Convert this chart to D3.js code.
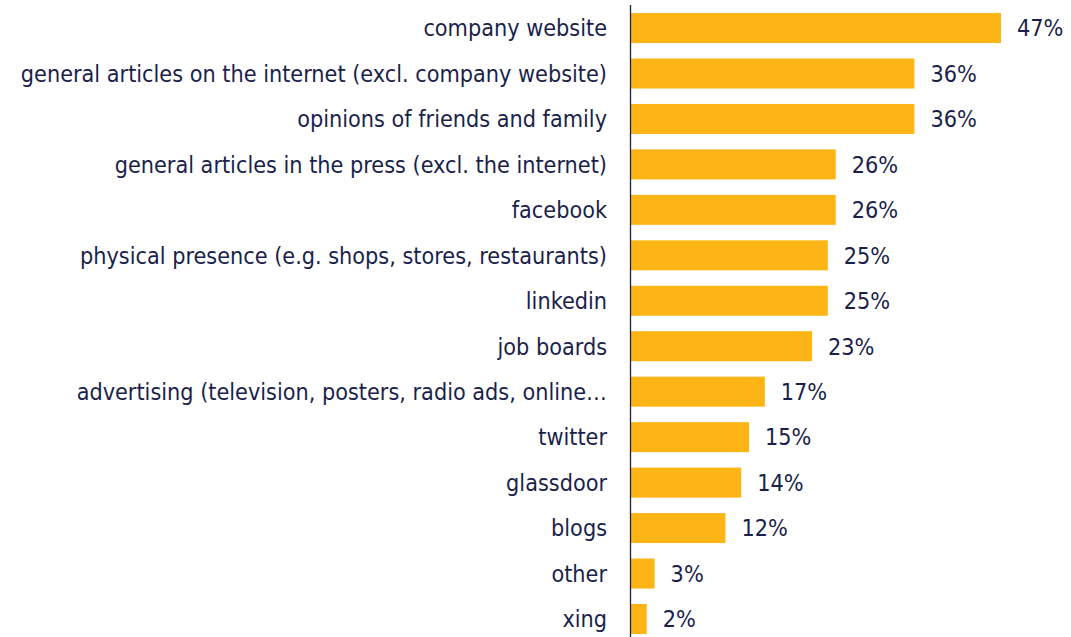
<!DOCTYPE html>
<html>
<head>
<meta charset="utf-8">
<script src="https://cdn.jsdelivr.net/npm/d3@7"></script>
<style>
  html, body { margin: 0; padding: 0; background: #ffffff; }
  svg { display: block; }
  text { font-stretch: condensed; }
</style>
</head>
<body>
<svg id="chart" width="1071" height="637"></svg>
<script>
const categories = [
  "company website",
  "general articles on the internet (excl. company website)",
  "opinions of friends and family",
  "general articles in the press (excl. the internet)",
  "facebook",
  "physical presence (e.g. shops, stores, restaurants)",
  "linkedin",
  "job boards",
  "advertising (television, posters, radio ads, online\u2026",
  "twitter",
  "glassdoor",
  "blogs",
  "other",
  "xing"
];
const values = [47, 36, 36, 26, 26, 25, 25, 23, 17, 15, 14, 12, 3, 2];
const valueLabels = values.map(v => v + "%");

const svg = d3.select("#chart");
const textColor = "#1b1f4b";
const barColor = "#fdb515";
const fontFamily = "'DejaVu Sans Condensed', 'DejaVu Sans', sans-serif";
const fontSize = 23.2;

const x = d3.scaleLinear().domain([0, 47]).range([631, 1001]);
const y = d3.scaleBand().domain(categories).range([5.3, 641.7]).paddingInner(0.34).paddingOuter(0.17);

svg.selectAll("rect.bar")
  .data(values)
  .join("rect")
  .attr("class", "bar")
  .attr("x", x(0))
  .attr("y", (d, i) => y(categories[i]))
  .attr("width", d => x(d) - x(0))
  .attr("height", y.bandwidth())
  .attr("fill", barColor);

svg.selectAll("text.cat")
  .data(categories)
  .join("text")
  .attr("class", "cat")
  .attr("x", 607)
  .attr("y", d => y(d) + y.bandwidth() / 2)
  .attr("dy", "0.36em")
  .attr("text-anchor", "end")
  .attr("font-family", fontFamily)
  .attr("font-size", fontSize)
  .attr("fill", textColor)
  .text(d => d);

svg.selectAll("text.val")
  .data(values)
  .join("text")
  .attr("class", "val")
  .attr("x", d => x(d) + 16)
  .attr("y", (d, i) => y(categories[i]) + y.bandwidth() / 2)
  .attr("dy", "0.36em")
  .attr("font-family", fontFamily)
  .attr("font-size", fontSize)
  .attr("fill", textColor)
  .text((d, i) => valueLabels[i]);

svg.append("line")
  .attr("x1", 630.5).attr("x2", 630.5)
  .attr("y1", 5).attr("y2", 637)
  .attr("stroke", textColor)
  .attr("stroke-width", 1.3);
</script>
</body>
</html>
